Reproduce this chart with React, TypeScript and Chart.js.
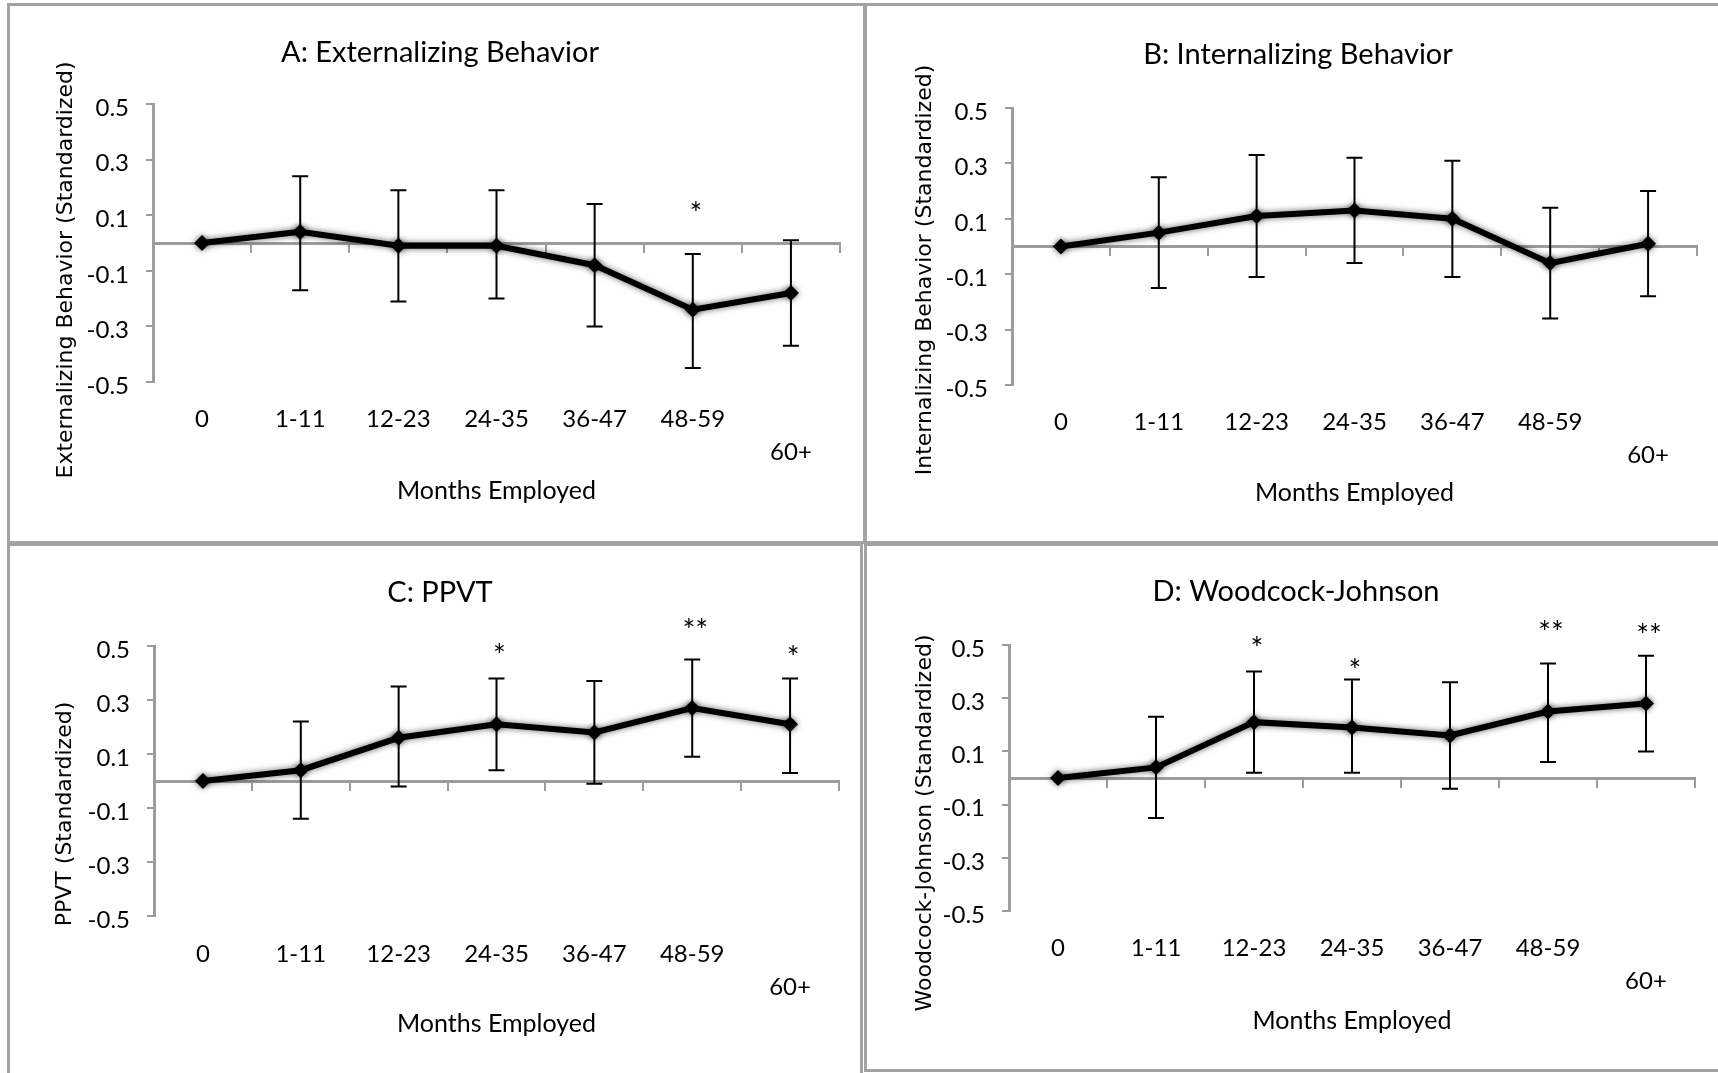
import React, { useEffect, useRef } from "react";
import { Chart, registerables } from "chart.js";

Chart.register(...registerables);

// ---------------- data ----------------
const MONTHS_EMPLOYED: (string | string[])[] = ["0", "1-11", "12-23", "24-35", "36-47", "48-59", ["", "60+"]];
const Y_TICKS = [-0.5, -0.3, -0.1, 0.1, 0.3, 0.5];
const Y_MIN = -0.5;
const Y_MAX = 0.5;

const EXT_MEAN = [0.0, 0.04, -0.01, -0.01, -0.08, -0.24, -0.18];
const EXT_LOW = [null, -0.17, -0.21, -0.2, -0.3, -0.45, -0.37];
const EXT_HIGH = [null, 0.24, 0.19, 0.19, 0.14, -0.04, 0.01];
const EXT_STARS = ["", "", "", "", "", "*", ""];
const EXT_STAR_AT = [null, null, null, null, null, 0.14, null];

const INT_MEAN = [0.0, 0.05, 0.11, 0.13, 0.1, -0.06, 0.01];
const INT_LOW = [null, -0.15, -0.11, -0.06, -0.11, -0.26, -0.18];
const INT_HIGH = [null, 0.25, 0.33, 0.32, 0.31, 0.14, 0.2];
const INT_STARS = ["", "", "", "", "", "", ""];
const INT_STAR_AT = [null, null, null, null, null, null, null];

const PPVT_MEAN = [0.0, 0.04, 0.16, 0.21, 0.18, 0.27, 0.21];
const PPVT_LOW = [null, -0.14, -0.02, 0.04, -0.01, 0.09, 0.03];
const PPVT_HIGH = [null, 0.22, 0.35, 0.38, 0.37, 0.45, 0.38];
const PPVT_STARS = ["", "", "", "*", "", "**", "*"];
const PPVT_STAR_AT = [null, null, null, 0.5, null, 0.59, 0.49];

const WJ_MEAN = [0.0, 0.04, 0.21, 0.19, 0.16, 0.25, 0.28];
const WJ_LOW = [null, -0.15, 0.02, 0.02, -0.04, 0.06, 0.1];
const WJ_HIGH = [null, 0.23, 0.4, 0.37, 0.36, 0.43, 0.46];
const WJ_STARS = ["", "", "*", "*", "", "**", "**"];
const WJ_STAR_AT = [null, null, 0.52, 0.44, null, 0.58, 0.57];

const X_TITLE = "Months Employed";

// ---------------- styles ----------------
const SANS = "Lato";
const WIDE = "DejaVu Sans";
const GREY = "#9c9c9c";
const BORDER_GREY = "#a2a2a2";
const TITLE_SIZE = 29;
const TITLE_LH = 1.2;
const XTITLE_SIZE = 25;
const XTITLE_LH = 1.2;
const TICK_SIZE = 24;
const TICK_LH = 1.38;
const YTITLE_SIZE = 22;
const STAR_SIZE = 30;

type Box = { x: number; y: number; w: number; h: number };
type PanelDef = {
  title: string;
  yTitle: string;
  mean: number[];
  low: (number | null)[];
  high: (number | null)[];
  stars: string[];
  starAt: (number | null)[];
  box: Box;
  plot: { l: number; t: number; r: number; b: number };
  titlePos: { cx: number; cy: number };
  xTickCy: number;
  xTitleCy: number;
  yTitlePos: { cx: number; cy: number };
};

const PANELS: PanelDef[] = [
  {
    title: "A: Externalizing Behavior",
    yTitle: "Externalizing Behavior (Standardized)",
    mean: EXT_MEAN, low: EXT_LOW, high: EXT_HIGH, stars: EXT_STARS, starAt: EXT_STAR_AT,
    box: { x: 7, y: 3, w: 859, h: 541 },
    plot: { l: 153, t: 104, r: 840, b: 382 },
    titlePos: { cx: 440, cy: 53 },
    xTickCy: 419,
    xTitleCy: 491,
    yTitlePos: { cx: 66, cy: 270 },
  },
  {
    title: "B: Internalizing Behavior",
    yTitle: "Internalizing Behavior (Standardized)",
    mean: INT_MEAN, low: INT_LOW, high: INT_HIGH, stars: INT_STARS, starAt: INT_STAR_AT,
    box: { x: 864, y: 3, w: 858, h: 541 },
    plot: { l: 1012, t: 108, r: 1697, b: 385 },
    titlePos: { cx: 1298, cy: 55 },
    xTickCy: 422,
    xTitleCy: 493,
    yTitlePos: { cx: 925, cy: 270 },
  },
  {
    title: "C: PPVT",
    yTitle: "PPVT (Standardized)",
    mean: PPVT_MEAN, low: PPVT_LOW, high: PPVT_HIGH, stars: PPVT_STARS, starAt: PPVT_STAR_AT,
    box: { x: 7, y: 543, w: 856, h: 536 },
    plot: { l: 154, t: 646, r: 839, b: 916 },
    titlePos: { cx: 440, cy: 593 },
    xTickCy: 954,
    xTitleCy: 1024,
    yTitlePos: { cx: 65, cy: 814 },
  },
  {
    title: "D: Woodcock-Johnson",
    yTitle: "Woodcock-Johnson (Standardized)",
    mean: WJ_MEAN, low: WJ_LOW, high: WJ_HIGH, stars: WJ_STARS, starAt: WJ_STAR_AT,
    box: { x: 864, y: 543, w: 858, h: 529 },
    plot: { l: 1009, t: 645, r: 1695, b: 911 },
    titlePos: { cx: 1296, cy: 592 },
    xTickCy: 948,
    xTitleCy: 1021,
    yTitlePos: { cx: 925, cy: 823 },
  },
];

function makeDecorPlugin(p: PanelDef) {
  return {
    id: "decor",
    beforeDatasetDraw(chart: any) {
      const ctx = chart.ctx;
      ctx.save();
      ctx.shadowColor = "rgba(0,0,0,0.6)";
      ctx.shadowBlur = 6;
    },
    afterDatasetDraw(chart: any) {
      chart.ctx.restore();
    },
    afterDatasetsDraw(chart: any) {
      const ctx = chart.ctx;
      const x = chart.scales.x;
      const y = chart.scales.y;
      ctx.save();
      ctx.strokeStyle = "#000";
      ctx.lineWidth = 2;
      const cap = 8;
      for (let i = 0; i < p.mean.length; i++) {
        const lo = p.low[i];
        const hi = p.high[i];
        if (lo == null || hi == null) continue;
        const px = x.getPixelForValue(i);
        const yl = y.getPixelForValue(lo);
        const yh = y.getPixelForValue(hi);
        ctx.beginPath();
        ctx.moveTo(px, yl);
        ctx.lineTo(px, yh);
        ctx.moveTo(px - cap, yl);
        ctx.lineTo(px + cap, yl);
        ctx.moveTo(px - cap, yh);
        ctx.lineTo(px + cap, yh);
        ctx.stroke();
      }
      ctx.fillStyle = "#000";
      ctx.font = `${STAR_SIZE}px ${SANS}`;
      ctx.textAlign = "center";
      ctx.textBaseline = "middle";
      for (let i = 0; i < p.stars.length; i++) {
        const s = p.stars[i];
        const at = p.starAt[i];
        if (!s || at == null) continue;
        ctx.fillText(s, x.getPixelForValue(i) + 3, y.getPixelForValue(at) + STAR_SIZE * 0.33);
      }
      ctx.restore();
    },
    afterDraw(chart: any) {
      const ctx = chart.ctx;
      ctx.save();
      ctx.translate(p.yTitlePos.cx - p.box.x, p.yTitlePos.cy - p.box.y);
      ctx.rotate(-Math.PI / 2);
      ctx.fillStyle = "#000";
      ctx.font = `${YTITLE_SIZE}px "${WIDE}"`;
      ctx.textAlign = "center";
      ctx.textBaseline = "middle";
      ctx.fillText(p.yTitle, 0, 0);
      ctx.restore();
    },
  };
}

function Panel({ p }: { p: PanelDef }) {
  const ref = useRef<HTMLCanvasElement>(null);
  useEffect(() => {
    const { box, plot } = p;
    const W = box.w;
    const H = box.h;
    const plotL = plot.l - box.x;
    const plotR = plot.r - box.x;
    const plotT = plot.t - box.y;
    const plotB = plot.b - box.y;
    const padRight = W - plotR;
    const titleCx = p.titlePos.cx - box.x;
    const titleCy = p.titlePos.cy - box.y;
    const padLeft = 2 * titleCx - W + padRight;
    const yWidth = plotL - padLeft;
    const tLH = TITLE_SIZE * TITLE_LH;
    const titlePadTop = titleCy - tLH / 2;
    const titlePadBottom = plotT - titlePadTop - tLH;
    const xtLH = XTITLE_SIZE * XTITLE_LH;
    const xHeight = p.xTitleCy - box.y - plotB + xtLH / 2;
    const padBottom = H - plotB - xHeight;
    const tickPad = p.xTickCy - box.y - plotB - (TICK_SIZE * TICK_LH) / 2;

    const chart = new Chart(ref.current as HTMLCanvasElement, {
      type: "line",
      data: {
        labels: MONTHS_EMPLOYED as any,
        datasets: [
          {
            data: p.mean,
            borderColor: "#000",
            backgroundColor: "#000",
            borderWidth: 6,
            pointStyle: "rectRot",
            pointRadius: 8,
            pointBackgroundColor: "#000",
            pointBorderColor: "#000",
            pointBorderWidth: 0,
            tension: 0,
            clip: false as any,
          },
        ],
      },
      options: {
        responsive: false,
        animation: false,
        devicePixelRatio: 1,
        events: [],
        layout: { padding: { left: padLeft, right: padRight, top: 0, bottom: padBottom } },
        plugins: {
          legend: { display: false },
          tooltip: { enabled: false },
          title: {
            display: true,
            text: p.title,
            color: "#000",
            font: { family: SANS, size: TITLE_SIZE, weight: "normal", lineHeight: TITLE_LH },
            padding: { top: titlePadTop, bottom: titlePadBottom },
          },
        },
        scales: {
          x: {
            type: "category",
            offset: true,
            grid: { display: false, drawTicks: false },
            border: { display: false },
            ticks: {
              color: "#000",
              font: { family: SANS, size: TICK_SIZE, lineHeight: TICK_LH },
              padding: tickPad,
              maxRotation: 0,
              minRotation: 0,
              autoSkip: false,
            },
            title: {
              display: true,
              text: X_TITLE,
              color: "#000",
              font: { family: SANS, size: XTITLE_SIZE, lineHeight: XTITLE_LH },
              padding: 0,
            },
            afterFit: (s: any) => {
              s.height = xHeight;
            },
          },
          x0: {
            type: "category",
            position: { y: 0 },
            offset: true,
            grid: {
              display: true,
              offset: true,
              drawOnChartArea: false,
              drawTicks: true,
              tickLength: 8,
              color: GREY,
              lineWidth: 2,
            },
            border: { display: true, color: GREY, width: 3 },
            ticks: { display: false },
          },
          y: {
            type: "linear",
            min: Y_MIN,
            max: Y_MAX,
            afterBuildTicks: (s: any) => {
              s.ticks = Y_TICKS.map((v) => ({ value: v }));
            },
            ticks: {
              color: "#000",
              font: { family: SANS, size: TICK_SIZE },
              padding: 17,
              labelOffset: 4,
              callback: (v: any) => Number(v).toFixed(1),
            },
            grid: {
              display: true,
              drawOnChartArea: false,
              drawTicks: true,
              tickLength: 7,
              color: GREY,
              lineWidth: 2,
            },
            border: { display: true, color: GREY, width: 3 },
            afterFit: (s: any) => {
              s.width = yWidth;
            },
          },
        } as any,
      },
      plugins: [makeDecorPlugin(p)],
    } as any);
    return () => chart.destroy();
  }, [p]);

  return (
    <>
      <canvas
        ref={ref}
        width={p.box.w}
        height={p.box.h}
        style={{ position: "absolute", left: p.box.x, top: p.box.y, width: p.box.w, height: p.box.h }}
      />
      <div
        style={{
          position: "absolute",
          left: p.box.x,
          top: p.box.y,
          width: p.box.w,
          height: p.box.h,
          border: `3px solid ${BORDER_GREY}`,
          boxSizing: "border-box",
          pointerEvents: "none",
        }}
      />
    </>
  );
}

export default function App() {
  return (
    <div
      style={{
        position: "absolute",
        left: 0,
        top: 0,
        width: 1718,
        height: 1073,
        overflow: "hidden",
        background: "#fff",
      }}
    >
      {PANELS.map((p) => (
        <Panel key={p.title} p={p} />
      ))}
    </div>
  );
}
